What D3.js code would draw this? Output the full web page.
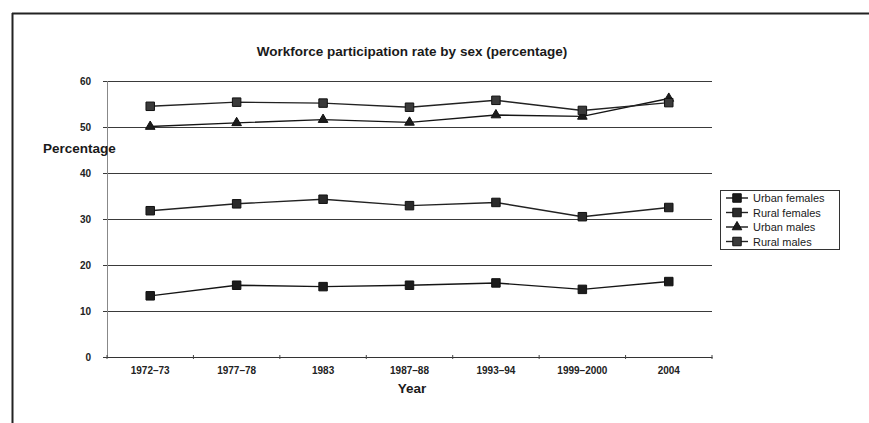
<!DOCTYPE html>
<html>
<head>
<meta charset="utf-8">
<script src="https://cdn.jsdelivr.net/npm/d3@7"></script>
<style>
  html, body { margin: 0; padding: 0; background: #fff; }
  svg { display: block; font-family: "Liberation Sans", Arial, sans-serif; }
</style>
</head>
<body>
<svg id="chart" width="869" height="423"></svg>
<script>
// ---- data ----
const categories = ["1972–73", "1977–78", "1983", "1987–88", "1993–94", "1999–2000", "2004"];
const urbanFemales = [13.3, 15.6, 15.3, 15.6, 16.1, 14.7, 16.4];
const ruralFemales = [31.8, 33.3, 34.3, 32.9, 33.6, 30.5, 32.5];
const urbanMales   = [50.1, 50.9, 51.6, 51.0, 52.6, 52.3, 56.2];
const ruralMales   = [54.5, 55.4, 55.2, 54.3, 55.8, 53.6, 55.3];
const yTicks = [0, 10, 20, 30, 40, 50, 60];
const seriesNames = ["Urban females", "Rural females", "Urban males", "Rural males"];

const title = "Workforce participation rate by sex (percentage)";
const yLabel = "Percentage";
const xLabel = "Year";

const series = [
  { name: seriesNames[0], values: urbanFemales, marker: "square", stroke: "#151515", fill: "#1c1c1c" },
  { name: seriesNames[1], values: ruralFemales, marker: "square", stroke: "#222", fill: "#2a2a2a" },
  { name: seriesNames[2], values: urbanMales,   marker: "triangle", stroke: "#151515", fill: "#1c1c1c" },
  { name: seriesNames[3], values: ruralMales,   marker: "square", stroke: "#222", fill: "#3a3a3a" }
];

const svg = d3.select("#chart");

// frame (scanned page border)
svg.append("line").attr("x1", 12).attr("x2", 869).attr("y1", 13.5).attr("y2", 13.5)
  .attr("stroke", "#222").attr("stroke-width", 2);
svg.append("line").attr("x1", 12.5).attr("x2", 12.5).attr("y1", 13).attr("y2", 423)
  .attr("stroke", "#222").attr("stroke-width", 2);

// scales
const x = d3.scaleBand().domain(categories).range([107, 712]).paddingInner(0).paddingOuter(0);
const y = d3.scaleLinear().domain([0, 60]).range([357, 81]);
const cx = c => x(c) + x.bandwidth() / 2;

// grid + y labels
const yAxis = d3.axisLeft(y).tickValues(yTicks).tickSize(-(712 - 103)).tickPadding(12)
  .tickFormat(d3.format("d"));
const gy = svg.append("g").attr("transform", "translate(103,0)").call(yAxis);
gy.select(".domain").remove();
gy.selectAll(".tick line").attr("stroke", "#3a3a3a").attr("stroke-width", 1.1);
gy.selectAll(".tick text")
  .attr("font-size", 10).attr("font-weight", "bold").attr("fill", "#222")
  .attr("font-family", "'Liberation Sans', Arial, sans-serif");

// y axis line
svg.append("line").attr("x1", 107.5).attr("x2", 107.5).attr("y1", y(60)).attr("y2", y(0))
  .attr("stroke", "#888").attr("stroke-width", 1);

// x axis
const xAxis = d3.axisBottom(x).tickSize(0).tickPadding(10);
const gx = svg.append("g").attr("transform", `translate(0,${y(0)})`).call(xAxis);
gx.select(".domain").attr("stroke", "#333").attr("stroke-width", 1.2);
gx.selectAll(".tick text")
  .attr("font-size", 10).attr("font-weight", "bold").attr("fill", "#222")
  .attr("font-family", "'Liberation Sans', Arial, sans-serif");
// small boundary ticks
svg.append("g").selectAll("line")
  .data(categories.concat(["__end"]))
  .join("line")
  .attr("x1", (c, i) => i < categories.length ? x(c) : x.range()[1])
  .attr("x2", (c, i) => i < categories.length ? x(c) : x.range()[1])
  .attr("y1", y(0) - 2).attr("y2", y(0) + 2)
  .attr("stroke", "#444").attr("stroke-width", 1);

// lines and markers
const line = d3.line().x((v, i) => cx(categories[i])).y(v => y(v));
const sym = {
  square: d3.symbol().type(d3.symbolSquare).size(72),
  triangle: d3.symbol().type(d3.symbolTriangle).size(40)
};
series.forEach(s => {
  svg.append("path").datum(s.values).attr("d", line)
    .attr("fill", "none").attr("stroke", s.stroke).attr("stroke-width", 1.4);
  svg.append("g").selectAll("path").data(s.values).join("path")
    .attr("d", sym[s.marker])
    .attr("transform", (v, i) => `translate(${cx(categories[i])},${y(v)})`)
    .attr("fill", s.fill).attr("stroke", "#111").attr("stroke-width", 1);
});

// title and axis labels
svg.append("text").attr("x", 412).attr("y", 56).attr("text-anchor", "middle")
  .attr("font-size", 13.5).attr("font-weight", "bold").attr("fill", "#1a1a1a").text(title);
svg.append("text").attr("x", 43).attr("y", 153)
  .attr("font-size", 13.5).attr("font-weight", "bold").attr("fill", "#1a1a1a").text(yLabel);
svg.append("text").attr("x", 412).attr("y", 393).attr("text-anchor", "middle")
  .attr("font-size", 13.5).attr("font-weight", "bold").attr("fill", "#1a1a1a").text(xLabel);

// legend
const lg = svg.append("g");
lg.append("rect").attr("x", 720.5).attr("y", 190.5).attr("width", 119).attr("height", 59)
  .attr("fill", "#fff").attr("stroke", "#333").attr("stroke-width", 1);
const rowY = d3.scalePoint().domain(seriesNames).range([198, 241.5]);
series.forEach(s => {
  const yy = rowY(s.name);
  lg.append("line").attr("x1", 726).attr("x2", 748).attr("y1", yy).attr("y2", yy)
    .attr("stroke", s.stroke).attr("stroke-width", 1.4);
  lg.append("path").attr("d", sym[s.marker]).attr("transform", `translate(737,${yy})`)
    .attr("fill", s.fill).attr("stroke", "#111").attr("stroke-width", 1);
  lg.append("text").attr("x", 753).attr("y", yy + 4).attr("font-size", 11)
    .attr("fill", "#1a1a1a").text(s.name);
});
</script>
</body>
</html>
